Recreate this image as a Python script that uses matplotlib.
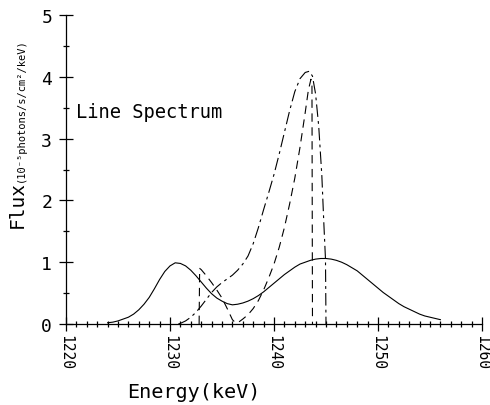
import matplotlib
matplotlib.use("Agg")
import matplotlib.pyplot as plt
from matplotlib.ticker import MultipleLocator

# solid curve: continuum (two broad humps)
solid_energy = [1224.0, 1224.5, 1225.0, 1225.5, 1226.0, 1226.5, 1227.0, 1227.5,
                1228.0, 1228.5, 1229.0, 1229.5, 1230.0, 1230.5, 1231.0, 1231.5,
                1232.0, 1232.5, 1233.0, 1233.5, 1234.0, 1234.5, 1235.0, 1235.5,
                1236.0, 1236.5, 1237.0, 1237.5, 1238.0, 1238.5, 1239.0, 1239.5,
                1240.0, 1240.5, 1241.0, 1241.5, 1242.0, 1242.5, 1243.0, 1243.5,
                1244.0, 1244.5, 1245.0, 1245.5, 1246.0, 1246.5, 1247.0, 1247.5,
                1248.0, 1248.5, 1249.0, 1249.5, 1250.0, 1250.5, 1251.0, 1251.5,
                1252.0, 1252.5, 1253.0, 1253.5, 1254.0, 1254.5, 1255.0, 1255.5,
                1256.0]
solid_flux = [0.02, 0.03, 0.05, 0.08, 0.11, 0.16, 0.23, 0.32,
              0.43, 0.57, 0.72, 0.85, 0.94, 0.99, 0.98, 0.94,
              0.87, 0.78, 0.68, 0.58, 0.49, 0.42, 0.37, 0.33,
              0.31, 0.32, 0.34, 0.37, 0.41, 0.46, 0.52, 0.59,
              0.66, 0.73, 0.80, 0.86, 0.92, 0.97, 1.00, 1.03,
              1.05, 1.06, 1.06, 1.05, 1.03, 1.00, 0.96, 0.91,
              0.86, 0.79, 0.72, 0.65, 0.58, 0.51, 0.45, 0.39,
              0.33, 0.28, 0.24, 0.20, 0.16, 0.13, 0.11, 0.09,
              0.07]

# dash-dot curve
dashdot_energy = [1230.8, 1231.0, 1231.5, 1232.0, 1232.5, 1233.0, 1233.5, 1234.0,
                  1234.5, 1235.0, 1235.5, 1236.0, 1236.5, 1237.0, 1237.5, 1238.0,
                  1238.5, 1239.0, 1239.5, 1240.0, 1240.5, 1241.0, 1241.5, 1242.0,
                  1242.5, 1243.0, 1243.4, 1243.7, 1244.0, 1244.3, 1244.6, 1244.8,
                  1244.95, 1245.0]
dashdot_flux = [0.0, 0.01, 0.05, 0.11, 0.19, 0.29, 0.40, 0.51,
                0.60, 0.67, 0.73, 0.79, 0.87, 0.97, 1.10, 1.30,
                1.56, 1.85, 2.13, 2.42, 2.75, 3.10, 3.45, 3.76,
                3.97, 4.07, 4.09, 4.01, 3.72, 3.20, 2.40, 1.60,
                1.05, 0.0]

# dashed curve
dashed_energy = [1232.8, 1232.85, 1233.0, 1233.5, 1234.0, 1234.5, 1235.0, 1235.5,
                 1236.0, 1236.3, 1236.6, 1237.0, 1237.5, 1238.0, 1238.5, 1239.0,
                 1239.5, 1240.0, 1240.5, 1241.0, 1241.5, 1242.0, 1242.5, 1243.0,
                 1243.3, 1243.55, 1243.65, 1243.7]
dashed_flux = [0.0, 0.90, 0.88, 0.78, 0.67, 0.55, 0.42, 0.25,
               0.07, 0.02, 0.03, 0.08, 0.15, 0.25, 0.38, 0.55,
               0.75, 0.97, 1.24, 1.56, 1.94, 2.36, 2.86, 3.42,
               3.78, 3.96, 3.90, 0.0]

x_ticks = [1220, 1230, 1240, 1250, 1260]
y_ticks = [0, 1, 2, 3, 4, 5]

MONO = ["DejaVu Sans Mono", "DejaVu Sans"]
W, H = 490, 406


def plot():
    plt.rcParams["lines.scale_dashes"] = False
    fig = plt.figure(figsize=(W / 100, H / 100), dpi=100)
    ax = fig.add_axes([66 / W, 1 - 325 / H, (482 - 66) / W, (325 - 16) / H])

    ax.plot(solid_energy, solid_flux, color="black", lw=0.8)
    ax.plot(dashdot_energy, dashdot_flux, color="black", lw=0.8,
            dashes=(9, 3, 2, 3))
    ax.plot(dashed_energy, dashed_flux, color="black", lw=0.8,
            dashes=(6, 4))

    ax.set_xlim(1220, 1260)
    ax.set_ylim(0, 5)
    ax.set_xticks(x_ticks)
    ax.set_yticks(y_ticks)
    ax.xaxis.set_minor_locator(MultipleLocator(1))
    ax.yaxis.set_minor_locator(MultipleLocator(0.5))
    ax.set_xticklabels([str(t) for t in x_ticks], rotation=270,
                       family=MONO, fontsize=10.5)
    ax.set_yticklabels([str(t) for t in y_ticks], family=MONO, fontsize=13)
    ax.tick_params(which="major", direction="inout", length=10, width=0.9)
    ax.tick_params(which="minor", direction="inout", length=5, width=0.9)
    ax.tick_params(axis="x", which="major", pad=2)
    ax.tick_params(axis="y", which="major", pad=5)
    for s in ["top", "right"]:
        ax.spines[s].set_visible(False)
    for s in ["left", "bottom"]:
        ax.spines[s].set_linewidth(0.9)
    ax.set_facecolor("none")

    ax.text(1221.0, 3.35, "Line Spectrum", family=MONO, fontsize=13.5,
            ha="left", va="baseline")

    fig.text(127 / W, 1 - 398 / H, "Energy(keV)", family=MONO, fontsize=14.5,
             ha="left", va="baseline")
    fig.text(17 / W, 1 - 228 / H, "Flux", family=MONO, fontsize=14,
             rotation=90, ha="center", va="bottom")
    fig.text(21 / W, 1 - 182 / H, "(10\u207b\u2075photons/s/cm\u00b2/keV)",
             family=MONO, fontsize=7.5, rotation=90, ha="center", va="bottom")

    fig.savefig("out.png", dpi=100)


if __name__ == "__main__":
    plot()
